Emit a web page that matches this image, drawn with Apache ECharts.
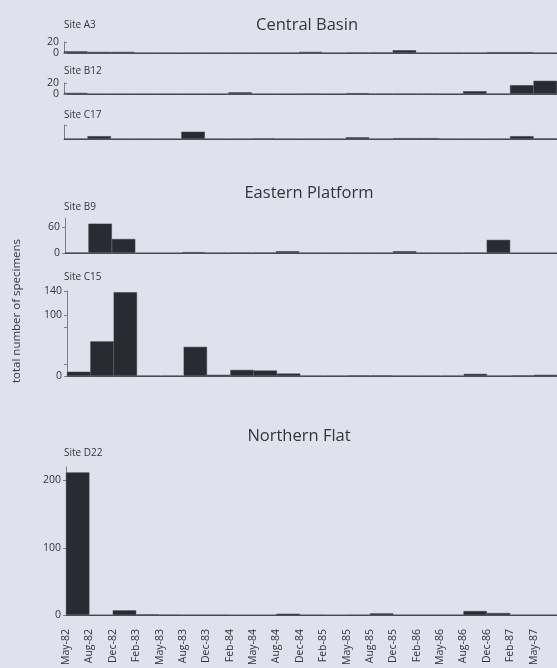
<!DOCTYPE html>
<html>
<head>
<meta charset="utf-8">
<script src="https://cdn.jsdelivr.net/npm/echarts@6/dist/echarts.min.js"></script>
<style>
  html, body { margin: 0; padding: 0; background: #dfe2ec; }
  #chart { width: 557px; height: 668px; }
</style>
</head>
<body>
<div id="chart"></div>
<script>
// Sampling dates (one bar per sampling period)
const categories = ['May-82','Aug-82','Dec-82','Feb-83','May-83','Aug-83','Dec-83','Feb-84','May-84','Aug-84','Dec-84','Feb-85','May-85','Aug-85','Dec-85','Feb-86','May-86','Aug-86','Dec-86','Feb-87','May-87'];

// Specimen counts per site
const siteA3  = [3, 2, 2, 0.3, 0.3, 0.3, 0.3, 0.3, 0.3, 0.5, 2, 0.3, 1, 1, 5, 0.3, 0.5, 0.5, 1.5, 1.5, 0.3];
const siteB12 = [2, 0.3, 0.3, 0.3, 0.3, 0.3, 0.3, 3, 0.3, 0.3, 0.5, 0.3, 1.5, 0.5, 0.5, 0.5, 0.3, 5, 0.5, 16, 24];
const siteC17 = [0.5, 5, 0.3, 0.3, 0.3, 13, 0.3, 0.3, 1, 0.3, 0.3, 0.3, 3, 0.3, 1.5, 1.5, 0.3, 0.3, 0.3, 5, 1];
const siteB9  = [1, 67, 32, 0, 0, 2, 0.5, 1, 1, 4, 0.5, 0.5, 0.5, 0.5, 4, 0.5, 0.5, 1, 30, 0, 0];
const siteC15 = [7, 57, 138, 0.5, 0.5, 48, 2, 10, 9, 4, 0.5, 0.5, 1, 1, 0.5, 0.5, 0.5, 3.5, 0.5, 1, 2];
const siteD22 = [212, 0, 7, 1, 0.5, 0.3, 0.3, 0, 0, 2, 0.3, 0, 0.3, 2.5, 0.3, 0.3, 0.3, 6, 3, 0.3, 0.3];

// Y-axis labels and ticks per panel
const yLabelsA3 = [0, 20],  yTicksA3 = [0, 20];
const yLabelsB12 = [0, 20], yTicksB12 = [0, 20];
const yLabelsC17 = [],      yTicksC17 = [25];
const yLabelsB9 = [0, 60],  yTicksB9 = [0, 60];
const yLabelsC15 = [0, 100, 140], yTicksC15 = [0, 20, 80, 100, 140];
const yLabelsD22 = [0, 100, 200], yTicksD22 = [0, 100, 200];

const groupTitles = ['Central Basin', 'Eastern Platform', 'Northern Flat'];
const siteNames = ['Site A3', 'Site B12', 'Site C17', 'Site B9', 'Site C15', 'Site D22'];
const yAxisTitle = 'total number of specimens';

const FONT = '"Open Sans", Lato, sans-serif';
const INK = '#34343c';
const BAR = '#2a2a33';

// Panel geometry: top of plot, plot height, left edge, y max
const panels = [
  { data: siteA3,  top: 42,  height: 11,  left: 64, max: 20,  labels: yLabelsA3,  ticks: yTicksA3,  inside: true },
  { data: siteB12, top: 83,  height: 11,  left: 64, max: 20,  labels: yLabelsB12, ticks: yTicksB12, inside: true },
  { data: siteC17, top: 125, height: 14,  left: 64, max: 25,  labels: yLabelsC17, ticks: yTicksC17, inside: true },
  { data: siteB9,  top: 218, height: 35,  left: 65, max: 80,  labels: yLabelsB9,  ticks: yTicksB9,  inside: false },
  { data: siteC15, top: 291, height: 85,  left: 67, max: 140, labels: yLabelsC15, ticks: yTicksC15, inside: false },
  { data: siteD22, top: 467, height: 150, left: 66, max: 220, labels: yLabelsD22, ticks: yTicksD22, inside: false }
];
const plotRight = 566;

const grid = [], xAxis = [], yAxis = [], series = [];
panels.forEach((p, i) => {
  grid.push({ left: p.left, top: p.top, width: plotRight - p.left, height: p.height });
  xAxis.push({
    type: 'category', gridIndex: i, data: categories, boundaryGap: true,
    position: 'bottom',
    axisLine: { show: true, lineStyle: { color: '#50545f', width: 1 } },
    axisTick: { show: false }, axisLabel: { show: false }, splitLine: { show: false }
  });
  yAxis.push({
    type: 'value', gridIndex: i, min: 0, max: p.max,
    axisLine: { show: true, lineStyle: { color: '#7a7e88', width: 1 } },
    axisTick: { show: true, inside: p.inside, length: 3, customValues: p.ticks, lineStyle: { color: '#7a7e88' } },
    axisLabel: {
      show: p.labels.length > 0, customValues: p.labels, hideOverlap: false,
      margin: 5, fontFamily: FONT, fontSize: 10.5, lineHeight: 9, color: INK
    },
    splitLine: { show: false }
  });
  series.push({
    type: 'bar', xAxisIndex: i, yAxisIndex: i, data: p.data,
    barWidth: '100%', clip: false,
    itemStyle: { color: BAR, borderColor: '#3a3a44', borderWidth: 0.5 },
    silent: true, animation: false
  });
});

// Date labels along the bottom panel, placed at the start of each sampling period
xAxis.push({
  type: 'category', gridIndex: 5, data: categories.concat(['']), boundaryGap: false,
  position: 'bottom', offset: 0,
  axisLine: { show: false }, axisTick: { show: false }, splitLine: { show: false },
  axisLabel: { interval: 0, rotate: 90, margin: 14, fontFamily: FONT, fontSize: 10.5, color: INK }
});

const textEl = (text, x, y, size, align, rotation) => ({
  type: 'text', x: x, y: y, rotation: rotation || 0,
  style: { text: text, fontFamily: FONT, fontSize: size, fill: INK, align: align || 'left', verticalAlign: 'middle' },
  silent: true
});

const graphic = [
  textEl(groupTitles[0], 307, 25, 16.5, 'center'),
  textEl(groupTitles[1], 309, 193, 16.5, 'center'),
  textEl(groupTitles[2], 299, 436, 16.5, 'center'),
  textEl(siteNames[0], 64, 25, 10),
  textEl(siteNames[1], 64, 71, 10),
  textEl(siteNames[2], 64, 115, 10),
  textEl(siteNames[3], 64, 207, 10),
  textEl(siteNames[4], 64, 277, 10),
  textEl(siteNames[5], 64, 453, 10),
  textEl(yAxisTitle, 17, 311, 11.5, 'center', Math.PI / 2)
];

const chart = echarts.init(document.getElementById('chart'), null, { renderer: 'canvas' });
chart.setOption({
  backgroundColor: '#dfe2ec',
  animation: false,
  grid: grid, xAxis: xAxis, yAxis: yAxis, series: series, graphic: graphic
});
</script>
</body>
</html>
